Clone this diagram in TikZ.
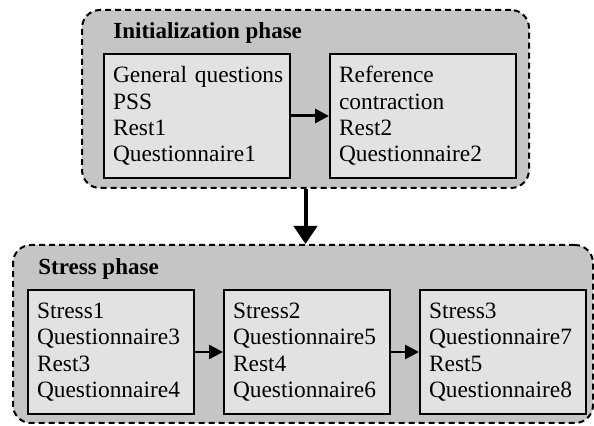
\documentclass[tikz,border=0pt]{standalone}
\usepackage{fontspec}
\setmainfont{Liberation Serif}
\usetikzlibrary{arrows.meta,fit}

\definecolor{phasegray}{RGB}{197,197,197}
\definecolor{boxgray}{RGB}{226,226,226}

\tikzset{
  phase/.style={draw, dashed, dash pattern=on 3pt off 2pt, line width=1pt,
    rounded corners=9pt, fill=phasegray, inner sep=0pt},
  phasetitle/.style={anchor=base west, inner sep=0pt, font=\fontsize{11.5}{13}\selectfont\bfseries},
  stepbox/.style={draw, line width=1pt, fill=boxgray, anchor=north west,
    align=left, inner xsep=4.5pt, minimum height=62pt,
    font=\fontsize{11.7}{13.2}\selectfont},
  flow/.style={-{Triangle[length=7pt,width=7pt]}, line width=1.3pt},
  bigflow/.style={-{Triangle[length=9pt,width=11.5pt]}, line width=2pt}
}

\begin{document}
\begin{tikzpicture}[x=0.5pt, y=-0.5pt]
  \useasboundingbox (0,0) rectangle (594,426);

  % Phase frames
  \node[phase, fit={(82,10) (529,188)}] (init) {};
  \node[phase, fit={(13,245) (593,423)}] (stress) {};

  % Phase titles
  \node[phasetitle] (inittitle) at (113,39) {Initialization phase};
  \node[phasetitle] (stresstitle) at (38,275) {Stress phase};

  % Initialization steps
  \node[stepbox, text width=84pt, minimum width=93pt] (init1) at (103,53)
    {\mbox{General questions}\\PSS\\Rest1\\Questionnaire1};
  \node[stepbox, text width=84pt, minimum width=93pt] (init2) at (329,53)
    {Reference\\contraction\\Rest2\\Questionnaire2};

  % Stress steps
  \node[stepbox, text width=74pt, minimum width=83pt] (stress1) at (27,289)
    {Stress1\\Questionnaire3\\Rest3\\Questionnaire4};
  \node[stepbox, text width=74pt, minimum width=83pt] (stress2) at (223,289)
    {Stress2\\Questionnaire5\\Rest4\\Questionnaire6};
  \node[stepbox, text width=74pt, minimum width=83pt] (stress3) at (419,289)
    {Stress3\\Questionnaire7\\Rest5\\Questionnaire8};

  % Arrows
  \draw[flow, line width=1.5pt] (init1) -- (init2);
  \draw[flow] (stress1) -- (stress2);
  \draw[flow] (stress2) -- (stress3);
  \draw[bigflow] (init.south) -- (init.south |- stress.north);

\end{tikzpicture}
\end{document}
